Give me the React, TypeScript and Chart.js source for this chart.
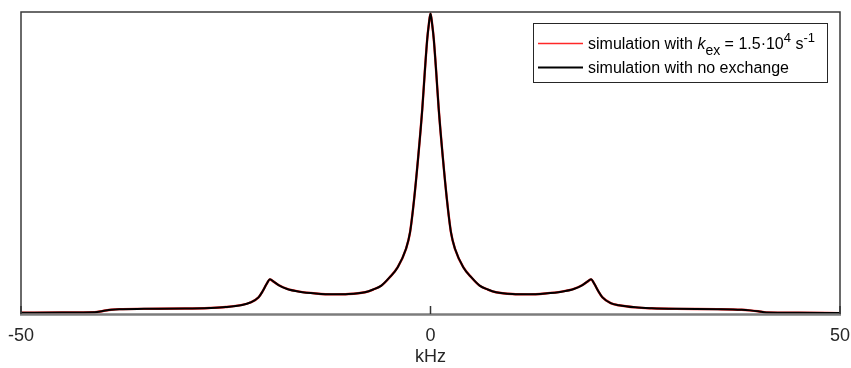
import React, { useEffect, useRef } from "react";
import { Chart, registerables } from "chart.js";

Chart.register(...registerables);

const freqKHz = [
  -50, -45, -41, -40, -39, -38, -35, -30, -27, -25,
  -23, -22, -21, -20.5, -20, -19.6, -19.2, -18.5, -17.5, -16,
  -14, -12, -10, -8, -7, -6, -5, -4, -3, -2.5,
  -2, -1.5, -1, -0.7, -0.4, -0.2, 0,
  0.2, 0.4, 0.7, 1, 1.5, 2, 2.5, 3, 4, 5,
  6, 7, 8, 10, 12, 14, 16, 17.5, 18.5, 19.2,
  19.6, 20, 20.5, 21, 22, 23, 25, 27, 30, 35,
  38, 39, 40, 41, 45, 50,
];

const noExchange = [
  0.004, 0.005, 0.006, 0.010, 0.014, 0.016, 0.017, 0.018, 0.020, 0.023,
  0.030, 0.038, 0.055, 0.075, 0.100, 0.115, 0.108, 0.095, 0.083, 0.074,
  0.068, 0.065, 0.066, 0.072, 0.081, 0.094, 0.121, 0.155, 0.215, 0.270,
  0.380, 0.520, 0.680, 0.800, 0.910, 0.960, 0.995,
  0.960, 0.910, 0.800, 0.680, 0.520, 0.380, 0.270, 0.215, 0.155, 0.121,
  0.094, 0.081, 0.072, 0.066, 0.065, 0.068, 0.074, 0.083, 0.095, 0.108,
  0.115, 0.100, 0.075, 0.055, 0.036, 0.029, 0.022, 0.019, 0.017, 0.016,
  0.014, 0.012, 0.009, 0.005, 0.004, 0.003,
];

const withExchange = [
  0.004, 0.005, 0.006, 0.010, 0.014, 0.016, 0.017, 0.018, 0.020, 0.023,
  0.030, 0.038, 0.055, 0.075, 0.100, 0.114, 0.108, 0.095, 0.083, 0.074,
  0.068, 0.065, 0.066, 0.072, 0.081, 0.094, 0.121, 0.155, 0.215, 0.270,
  0.380, 0.520, 0.680, 0.800, 0.910, 0.960, 0.994,
  0.960, 0.910, 0.800, 0.680, 0.520, 0.380, 0.270, 0.215, 0.155, 0.121,
  0.094, 0.081, 0.072, 0.066, 0.065, 0.068, 0.074, 0.083, 0.095, 0.108,
  0.114, 0.100, 0.075, 0.055, 0.036, 0.029, 0.022, 0.019, 0.017, 0.016,
  0.014, 0.012, 0.009, 0.005, 0.004, 0.003,
];

const xTicks = [-50, 0, 50];
const xTitle = "kHz";
const legendRed = "simulation with ";
const legendBlack = "simulation with no exchange";

const FONT = "'Liberation Sans', Arial, sans-serif";
const RED = "rgb(255,40,40)";
const AXIS = "#262626";

const framePlugin = {
  id: "frame",
  afterDraw(chart: any) {
    const { ctx, chartArea } = chart;
    const { left, right, top, bottom } = chartArea;
    const xs = chart.scales.x;
    ctx.save();
    // box
    ctx.strokeStyle = "#3a3a3a";
    ctx.lineWidth = 1.5;
    ctx.beginPath();
    ctx.moveTo(left, bottom);
    ctx.lineTo(left, top);
    ctx.lineTo(right, top);
    ctx.lineTo(right, bottom);
    ctx.stroke();
    ctx.strokeStyle = "#7c7c7c";
    ctx.lineWidth = 2.5;
    ctx.beginPath();
    ctx.moveTo(left - 1, bottom + 0.5);
    ctx.lineTo(right + 1, bottom + 0.5);
    ctx.stroke();
    // inward ticks
    ctx.strokeStyle = "#333";
    ctx.lineWidth = 1.5;
    xTicks.forEach((v) => {
      const px = xs.getPixelForValue(v);
      ctx.beginPath();
      ctx.moveTo(px, bottom);
      ctx.lineTo(px, bottom - 8);
      ctx.stroke();
    });

    // legend
    const bx = 533, by = 23, bw = 294, bh = 59;
    ctx.fillStyle = "#fff";
    ctx.fillRect(bx, by, bw, bh);
    ctx.strokeStyle = "#262626";
    ctx.lineWidth = 1;
    ctx.strokeRect(bx + 0.5, by + 0.5, bw, bh);

    ctx.lineWidth = 1.5;
    ctx.strokeStyle = RED;
    ctx.beginPath();
    ctx.moveTo(538, 43.5);
    ctx.lineTo(583, 43.5);
    ctx.stroke();
    ctx.strokeStyle = "#000";
    ctx.lineWidth = 2;
    ctx.beginPath();
    ctx.moveTo(538, 67.5);
    ctx.lineTo(583, 67.5);
    ctx.stroke();

    ctx.fillStyle = "#000";
    ctx.textBaseline = "alphabetic";
    ctx.textAlign = "left";
    let x = 588;
    const base1 = 49;
    const seg = (t: string, font: string, dy: number) => {
      ctx.font = font;
      ctx.fillText(t, x, base1 + dy);
      x += ctx.measureText(t).width;
    };
    seg(legendRed, `16px ${FONT}`, 0);
    seg("k", `italic 16px ${FONT}`, 0);
    seg("ex", `14px ${FONT}`, 6);
    seg(" = 1.5\u00b710", `16px ${FONT}`, 0);
    seg("4", `13px ${FONT}`, -7);
    seg(" s", `16px ${FONT}`, 0);
    seg("-1", `13px ${FONT}`, -7);

    ctx.font = `16px ${FONT}`;
    ctx.fillText(legendBlack, 588, 73);
    ctx.restore();
  },
};

export default function App() {
  const ref = useRef<HTMLCanvasElement | null>(null);
  useEffect(() => {
    document.body.style.margin = "0";
    const canvas = ref.current;
    if (!canvas) return;
    const chart = new Chart(canvas, {
      type: "line",
      data: {
        labels: freqKHz,
        datasets: [
          {
            label: legendBlack,
            data: freqKHz.map((f, i) => ({ x: f, y: noExchange[i] })),
            borderColor: "#000",
            borderWidth: 2,
            pointRadius: 0,
            fill: false,
            cubicInterpolationMode: "monotone",
          },
          {
            label: "simulation with kex",
            data: freqKHz.map((f, i) => ({ x: f, y: withExchange[i] })),
            borderColor: RED,
            borderWidth: 2.4,
            pointRadius: 0,
            fill: false,
            cubicInterpolationMode: "monotone",
          },
        ],
      },
      options: {
        animation: false,
        responsive: false,
        maintainAspectRatio: false,
        layout: { padding: { left: 21, right: 11, top: 12, bottom: 0 } },
        plugins: { legend: { display: false }, tooltip: { enabled: false } },
        scales: {
          x: {
            type: "linear",
            min: -50,
            max: 50,
            afterBuildTicks: (s: any) => {
              s.ticks = xTicks.map((v) => ({ value: v }));
            },
            afterFit: (s: any) => {
              s.height = 54;
              s.paddingLeft = 0;
              s.paddingRight = 0;
            },
            grid: { display: false, drawTicks: false },
            border: { display: false },
            ticks: {
              color: AXIS,
              font: { size: 18, family: FONT },
              padding: 11,
              maxRotation: 0,
              autoSkip: false,
            },
            title: {
              display: true,
              text: xTitle,
              color: AXIS,
              font: { size: 18, family: FONT },
              padding: { top: 1, bottom: 0 },
            },
          },
          y: { display: false, min: 0, max: 1 },
        },
      },
      plugins: [framePlugin],
    });
    return () => chart.destroy();
  }, []);
  return (
    <div style={{ width: 851, height: 368 }}>
      <canvas ref={ref} width={851} height={368} style={{ display: "block" }} />
    </div>
  );
}
